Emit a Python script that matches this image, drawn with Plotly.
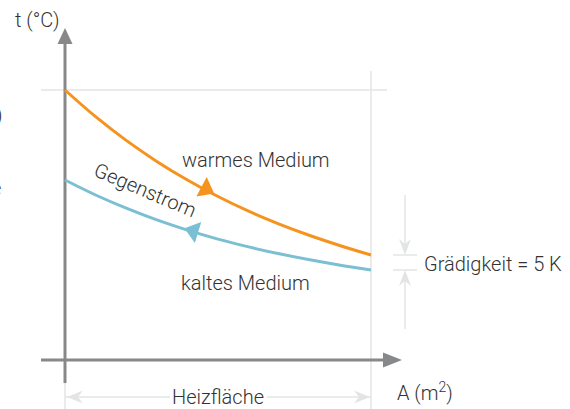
import plotly.graph_objects as go

# ---------------- data ----------------
area = [0, 1, 2, 3, 4, 5, 6, 7, 8, 9, 10]            # Heizfläche (relative)
t_warm = [90, 81.1, 73.2, 66.2, 60.0, 54.5, 49.6, 45.3, 41.5, 38.1, 35.0]   # warmes Medium
t_cold = [60, 55.0, 50.6, 46.7, 43.3, 40.3, 37.7, 35.4, 33.4, 31.6, 30.0]   # kaltes Medium
flow_arrow_area = [4.6, 4.2]
flow_arrow_t = [57.0, 43.0]
t_ref = 90            # upper reference line
A_end = 10            # end of heating surface
t_warm_end = 35
t_cold_end = 30
t_cold_start = 60

label_t = "t (°C)"
label_A = "A (m<sup>2</sup>)"
label_warm = "warmes Medium"
label_cold = "kaltes Medium"
label_flow = "Gegenstrom"
label_heiz = "Heizfläche"
label_grad = "Grädigkeit = 5 K"

# ---------------- styling / scale ----------------
W, H = 570, 409
X0_PX, Y0_PX = 65, 360      # pixel position of origin
SX, SY = 30.6, 3.0          # pixels per unit
def dx(p): return p / SX
def dy(p): return p / SY

ORANGE = "#F5931E"
BLUE = "#7BBFD2"
AXIS = "#87888A"
LIGHT = "#E3E4E5"
TEXT = "#333333"
FONT = "Roboto"
FS = 20

fig = go.Figure()

fig.add_trace(go.Scatter(x=area, y=t_warm, mode="lines", line=dict(color=ORANGE, width=3, shape="spline"),
                         hoverinfo="skip"))
fig.add_trace(go.Scatter(x=area, y=t_cold, mode="lines", line=dict(color=BLUE, width=3, shape="spline"),
                         hoverinfo="skip"))
fig.add_trace(go.Scatter(x=flow_arrow_area, y=flow_arrow_t, mode="markers",
                         marker=dict(symbol="triangle-up", size=19, color=[ORANGE, BLUE],
                                     angle=[118, 287], line=dict(width=0)),
                         hoverinfo="skip"))

shapes = []
def line(x0, y0, x1, y1, color, width):
    shapes.append(dict(type="line", xref="x", yref="y", x0=x0, y0=y0, x1=x1, y1=y1,
                       line=dict(color=color, width=width), layer="below"))
def path(pts, color):
    d = "M " + " L ".join(f"{x},{y}" for x, y in pts) + " Z"
    shapes.append(dict(type="path", xref="x", yref="y", path=d, fillcolor=color,
                       line=dict(width=0), layer="below"))

y_bottom = -dy(H - Y0_PX)

# light guide lines
line(-dx(24), t_ref, A_end + dx(16), t_ref, LIGHT, 1.5)
line(A_end, t_ref + dy(19), A_end, y_bottom, LIGHT, 1.5)
line(0, 0, 0, y_bottom, LIGHT, 1.5)

# Heizfläche dimension
y_dim = -dy(37)
line(0, y_dim, dx(105), y_dim, LIGHT, 1.5)
line(dx(202), y_dim, A_end, y_dim, LIGHT, 1.5)
def chevron_h(xtip, y, direction):
    L, hw, notch = dx(16) * direction, dy(6.5), dx(11) * direction
    path([(xtip, y), (xtip + L, y + hw), (xtip + notch, y), (xtip + L, y - hw)], LIGHT)
chevron_h(0 + dx(2), y_dim, 1)
chevron_h(A_end - dx(1), y_dim, -1)

# Grädigkeit dimension
xg = A_end + dx(34)
line(A_end + dx(22), t_warm_end, A_end + dx(46), t_warm_end, LIGHT, 1.5)
line(A_end + dx(22), t_cold_end, A_end + dx(46), t_cold_end, LIGHT, 1.5)
line(xg, t_warm_end + dy(60), xg, t_warm_end + dy(8), LIGHT, 1.5)
line(xg, t_cold_end - dy(8), xg, t_cold_end - dy(59), LIGHT, 1.5)
def chevron_v(x, ytip, direction):
    L, hw, notch = dy(16) * direction, dx(6), dy(11) * direction
    path([(x, ytip), (x + hw, ytip + L), (x, ytip + notch), (x - hw, ytip + L)], LIGHT)
chevron_v(xg, t_warm_end, 1)
chevron_v(xg, t_cold_end, -1)

# main axes (drawn over guides)
axis_top = t_ref + dy(46)
line(0, -dy(23), 0, axis_top, AXIS, 3)
path([(-dx(7.5), axis_top), (dx(7.5), axis_top), (0, t_ref + dy(62))], AXIS)
axis_right = A_end + dx(12)
line(-dx(24), 0, axis_right, 0, AXIS, 3)
path([(axis_right, dy(7.5)), (axis_right, -dy(7.5)), (A_end + dx(31), 0)], AXIS)

ann = []
def text(x, y, s, xanchor="center", angle=0, size=FS):
    ann.append(dict(x=x, y=y, xref="x", yref="y", text=s, showarrow=False, xanchor=xanchor,
                    yanchor="middle", textangle=angle,
                    font=dict(family=FONT, size=size, color=TEXT, weight=300)))

text(-dx(3), t_ref + dy(70), label_t, xanchor="right")
text(A_end + dx(24), -dy(32), label_A, xanchor="left")
text(dx(191), t_ref - dy(70), label_warm)
text(dx(180), t_cold_end - dy(13), label_cold)
text(dx(80), t_cold_start - dy(10), label_flow, angle=23)
text(dx(153), y_dim, label_heiz)
text(A_end + dx(51), (t_warm_end + t_cold_end) / 2 - dy(1), label_grad, xanchor="left")
# fragments of neighbouring text cut at the left edge
text(-dx(60), t_ref - dy(25), ")", xanchor="right")
text(-dx(62), t_cold_start - dy(8), "e", xanchor="right")

fig.update_layout(
    width=W, height=H, margin=dict(l=0, r=0, t=0, b=0),
    paper_bgcolor="white", plot_bgcolor="white", showlegend=False,
    xaxis=dict(visible=False, range=[-dx(X0_PX), dx(W - X0_PX)], fixedrange=True),
    yaxis=dict(visible=False, range=[y_bottom, dy(Y0_PX)], fixedrange=True),
    shapes=shapes, annotations=ann,
)

fig.write_html("out.html", config=dict(displayModeBar=False),
               post_script="document.body.style.margin='0';document.body.style.overflow='hidden';")
